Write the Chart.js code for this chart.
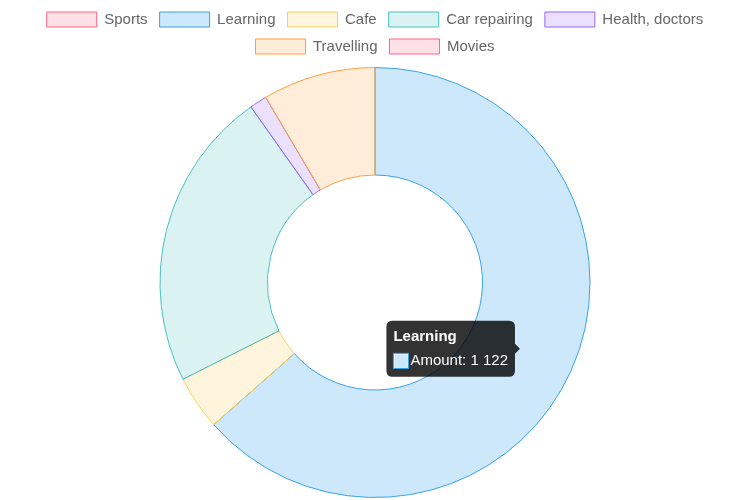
<!DOCTYPE html>
<html>
<head>
<meta charset="utf-8">
<script src="https://cdn.jsdelivr.net/npm/chart.js@4/dist/chart.umd.min.js"></script>
<style>
  html, body { margin: 0; padding: 0; background: #fff; }
  #wrap { width: 750px; height: 500px; }
</style>
</head>
<body>
<div id="wrap"><canvas id="myChart"></canvas></div>
<script>
var categories = ["Sports", "Learning", "Cafe", "Car repairing", "Health, doctors", "Travelling", "Movies"];
var amounts = [0, 1122, 72, 400, 23, 150, 0];
var fills = [
  "rgba(255, 99, 132, 0.2)",
  "rgba(54, 162, 235, 0.25)",
  "rgba(255, 206, 86, 0.2)",
  "rgba(75, 192, 192, 0.2)",
  "rgba(153, 102, 255, 0.2)",
  "rgba(255, 159, 64, 0.2)",
  "rgba(255, 99, 132, 0.2)"
];
var borders = [
  "rgba(255, 99, 132, 1)",
  "rgba(54, 162, 235, 1)",
  "rgba(255, 206, 86, 1)",
  "rgba(75, 192, 192, 1)",
  "rgba(153, 102, 255, 1)",
  "rgba(255, 159, 64, 1)",
  "rgba(255, 99, 132, 1)"
];

Chart.defaults.font.family = "'Liberation Sans', Arial, sans-serif";
Chart.defaults.font.size = 15;
Chart.defaults.color = "#666";

// a bit of room under the legend
var legendGap = {
  id: "legendGap",
  beforeInit: function (chart) {
    var fit = chart.legend.fit;
    chart.legend.fit = function () {
      fit.call(this);
      this.height += 3;
    };
  }
};

var chart = new Chart("myChart", {
  type: "doughnut",
  data: {
    labels: categories,
    datasets: [{
      label: "Amount",
      data: amounts,
      backgroundColor: fills,
      borderColor: borders,
      borderWidth: 1,
      hoverOffset: 0
    }]
  },
  options: {
    responsive: true,
    maintainAspectRatio: false,
    animation: false,
    cutout: "50%",
    layout: { padding: { top: 0, bottom: 2 } },
    plugins: {
      legend: {
        position: "top",
        labels: { boxWidth: 50, boxHeight: 15, padding: 12 }
      },
      tooltip: {
        backgroundColor: "rgba(0, 0, 0, 0.8)",
        padding: 7,
        cornerRadius: 6,
        titleFont: { size: 15, weight: "bold" },
        bodyFont: { size: 15 },
        callbacks: {
          label: function (ctx) {
            var v = String(ctx.raw).replace(/\B(?=(\d{3})+(?!\d))/g, " ");
            return ctx.dataset.label + ": " + v;
          }
        }
      }
    }
  },
  plugins: [legendGap]
});

// show the tooltip on Learning, like the reference
var el = chart.getDatasetMeta(0).data[1];
var pos = el.tooltipPosition();
chart.tooltip.setActiveElements([{ datasetIndex: 0, index: 1 }], { x: pos.x, y: pos.y });
chart.update();
</script>
</body>
</html>
